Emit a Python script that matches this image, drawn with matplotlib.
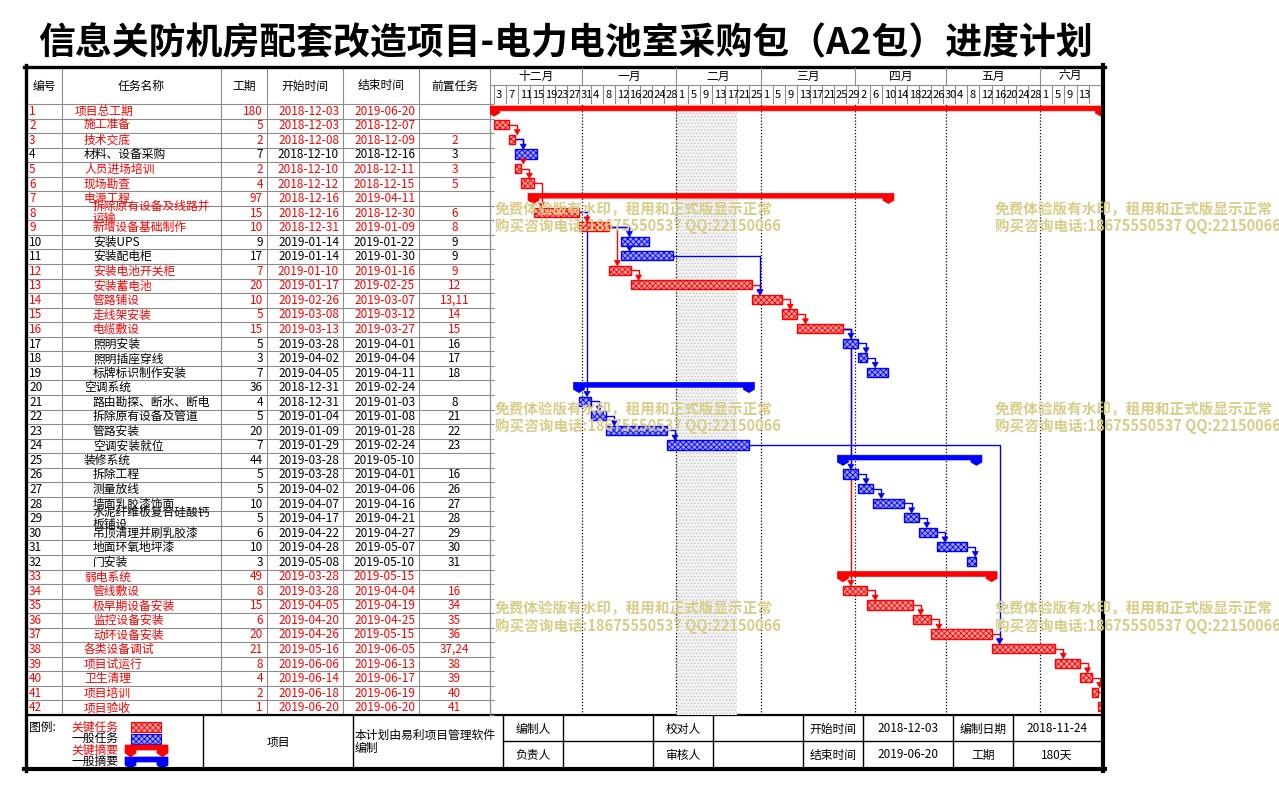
import numpy as np
import matplotlib
matplotlib.use('Agg')
import matplotlib.pyplot as plt
import matplotlib.dates as mdates
from matplotlib.patches import Polygon, Rectangle

plt.rcParams['font.family'] = ['Noto Sans CJK SC', 'DejaVu Sans']
plt.rcParams['hatch.linewidth'] = 0.6

title = '信息关防机房配套改造项目-电力电池室采购包（A2包）进度计划'

names = ['项目总工期', '施工准备', '技术交底', '材料、设备采购', '人员进场培训', '现场勘查',
         '电源工程', '拆除原有设备及线路并运输', '新增设备基础制作', '安装UPS', '安装配电柜',
         '安装电池开关柜', '安装蓄电池', '管路铺设', '走线架安装', '电缆敷设', '照明安装',
         '照明插座穿线', '标牌标识制作安装', '空调系统', '路由勘探、断水、断电', '拆除原有设备及管道',
         '管路安装', '空调安装就位', '装修系统', '拆除工程', '测量放线', '墙面乳胶漆饰面',
         '水泥纤维板复合硅酸钙板铺设', '吊顶清理并刷乳胶漆', '地面环氧地坪漆', '门安装', '弱电系统',
         '管线敷设', '极早期设备安装', '监控设备安装', '动环设备安装', '各类设备调试', '项目试运行',
         '卫生清理', '项目培训', '项目验收']
levels = [1, 2, 2, 2, 2, 2, 2, 3, 3, 3, 3, 3, 3, 3, 3, 3, 3, 3, 3, 2, 3, 3, 3, 3, 2,
          3, 3, 3, 3, 3, 3, 3, 2, 3, 3, 3, 3, 2, 2, 2, 2, 2]
durations = [180, 5, 2, 7, 2, 4, 97, 15, 10, 9, 17, 7, 20, 10, 5, 15, 5, 3, 7, 36, 4,
             5, 20, 7, 44, 5, 5, 10, 5, 6, 10, 3, 49, 8, 15, 6, 20, 21, 8, 4, 2, 1]
starts = ['2018-12-03', '2018-12-03', '2018-12-08', '2018-12-10', '2018-12-10', '2018-12-12',
          '2018-12-16', '2018-12-16', '2018-12-31', '2019-01-14', '2019-01-14', '2019-01-10',
          '2019-01-17', '2019-02-26', '2019-03-08', '2019-03-13', '2019-03-28', '2019-04-02',
          '2019-04-05', '2018-12-31', '2018-12-31', '2019-01-04', '2019-01-09', '2019-01-29',
          '2019-03-28', '2019-03-28', '2019-04-02', '2019-04-07', '2019-04-17', '2019-04-22',
          '2019-04-28', '2019-05-08', '2019-03-28', '2019-03-28', '2019-04-05', '2019-04-20',
          '2019-04-26', '2019-05-16', '2019-06-06', '2019-06-14', '2019-06-18', '2019-06-20']
ends = ['2019-06-20', '2018-12-07', '2018-12-09', '2018-12-16', '2018-12-11', '2018-12-15',
        '2019-04-11', '2018-12-30', '2019-01-09', '2019-01-22', '2019-01-30', '2019-01-16',
        '2019-02-25', '2019-03-07', '2019-03-12', '2019-03-27', '2019-04-01', '2019-04-04',
        '2019-04-11', '2019-02-24', '2019-01-03', '2019-01-08', '2019-01-28', '2019-02-24',
        '2019-05-10', '2019-04-01', '2019-04-06', '2019-04-16', '2019-04-21', '2019-04-27',
        '2019-05-07', '2019-05-10', '2019-05-15', '2019-04-04', '2019-04-19', '2019-04-25',
        '2019-05-15', '2019-06-05', '2019-06-13', '2019-06-17', '2019-06-19', '2019-06-20']
preds = ['', '', '2', '3', '3', '5', '', '6', '8', '9', '9', '9', '12', '13,11', '14', '15',
         '16', '17', '18', '', '8', '21', '22', '23', '', '16', '26', '27', '28', '29', '30',
         '31', '', '16', '34', '35', '36', '37,24', '38', '39', '40', '41']
critical = [1, 1, 1, 0, 1, 1, 1, 1, 1, 0, 0, 1, 1, 1, 1, 1, 0, 0, 0, 0, 0, 0, 0, 0, 0,
            0, 0, 0, 0, 0, 0, 0, 1, 1, 1, 1, 1, 1, 1, 1, 1, 1]
summary_rows = [1, 7, 20, 25, 33]

headers = ['编号', '任务名称', '工期', '开始时间', '结束时间', '前置任务']
month_names = ['十二月', '一月', '二月', '三月', '四月', '五月', '六月']
month_starts = ['2018-12-01', '2019-01-01', '2019-02-01', '2019-03-01', '2019-04-01',
                '2019-05-01', '2019-06-01', '2019-07-01']
shade_span = ('2019-02-01', '2019-02-21')
day_ticks = np.arange(np.datetime64('2018-12-03'), np.datetime64('2019-06-18'), 4)

footer_row1 = ['编制人', '', '校对人', '', '开始时间', '2018-12-03', '编制日期', '2018-11-24']
footer_row2 = ['负责人', '', '审核人', '', '结束时间', '2019-06-20', '工期', '180天']
legend_labels = ['关键任务', '一般任务', '关键摘要', '一般摘要']

watermark1 = '免费体验版有水印，租用和正式版显示正常'
watermark2 = '购买咨询电话:18675550537 QQ:22150066'

RED = '#ff0000'
BLUE = '#0000ff'
RED_FILL = '#ffa0a0'
BLUE_FILL = '#a0a0ff'
GRID = '#8c8c8c'
WM = '#d8cd88'

W, H = 1279, 792
L, R = 27, 1101
TOP, HDR, BOT, FOOT = 68, 104, 715, 767
GL = 490
col_x = [27, 62, 221, 267, 343, 419, GL]
n = len(names)
row_h = (BOT - HDR) / n

fig = plt.figure(figsize=(W / 100, H / 100), dpi=100)
ax = fig.add_axes([0, 0, 1, 1])
ax.set_xlim(0, W)
ax.set_ylim(H, 0)
ax.axis('off')

ax.text(566, 44, title, fontsize=26.6, fontweight='bold', ha='center', va='center')

# table grid
for k in range(n + 1):
    y = HDR + k * row_h
    ax.plot([L, GL], [y, y], color=GRID, lw=0.8)
for x in col_x[1:]:
    ax.plot([x, x], [TOP, BOT], color=GRID, lw=0.8)
for j, h in enumerate(headers):
    ax.text((col_x[j] + col_x[j + 1]) / 2, (TOP + HDR) / 2, h, fontsize=8.5,
            ha='center', va='center')

indent = {1: 75, 2: 84, 3: 93}
for i in range(n):
    y = HDR + (i + 0.5) * row_h
    c = RED if critical[i] else 'black'
    ax.text(29, y, str(i + 1), color=c, fontsize=8.5, va='center', ha='left')
    nm = names[i]
    if len(nm) > 10:
        nm = nm[:10] + '\n' + nm[10:]
    ax.text(indent[levels[i]], y, nm, color=c, fontsize=8.5, va='center', ha='left',
            linespacing=0.95)
    ax.text(col_x[3] - 4, y, str(durations[i]), color=c, fontsize=8.5, va='center', ha='right')
    ax.text(col_x[4] - 4, y, starts[i], color=c, fontsize=8.5, va='center', ha='right')
    ax.text(col_x[5] - 4, y, ends[i], color=c, fontsize=8.5, va='center', ha='right')
    ax.text((col_x[5] + col_x[6]) / 2, y, preds[i], color=c, fontsize=8.5,
            va='center', ha='center')

# footer
ax.plot([L, R], [BOT, BOT], color='black', lw=1.6)
mid = (BOT + FOOT) / 2
for x in [203, 353, 503]:
    ax.plot([x, x], [BOT, FOOT], color='black', lw=1)
fx = [503, 563, 653, 713, 803, 863, 953, 1013, R]
for x in fx[1:-1]:
    ax.plot([x, x], [BOT, FOOT], color='black', lw=1)
ax.plot([503, R], [mid, mid], color='black', lw=1)
for j in range(8):
    cx = (fx[j] + fx[j + 1]) / 2
    ax.text(cx, (BOT + mid) / 2 + 1, footer_row1[j], fontsize=8.5, ha='center', va='center')
    ax.text(cx, (mid + FOOT) / 2 + 1, footer_row2[j], fontsize=8.5, ha='center', va='center')
ax.text(278, mid + 1, '项目', fontsize=8.5, ha='center', va='center')
ax.text(355, mid + 1, '本计划由易利项目管理软件\n编制', fontsize=8.5, ha='left', va='center',
        linespacing=1.0)
ax.text(29, 727, '图例:', fontsize=8.5, ha='left', va='center')
for k, lab in enumerate(legend_labels):
    ax.text(71, 727 + k * 11.6, lab, fontsize=8.5, ha='left', va='center',
            color=RED if k % 2 == 0 else 'black')
ax.add_patch(Rectangle((131, 722), 30, 9.5, facecolor=RED_FILL, edgecolor=RED,
                       hatch='xxxxxx', lw=0.8))
ax.add_patch(Rectangle((131, 734), 30, 9.5, facecolor=BLUE_FILL, edgecolor=BLUE,
                       hatch='xxxxxx', lw=0.8))


def summary_shape(x0, x1, top, bar_b, side_b, tip, hw):
    return [(x0 - hw, top), (x1 + hw, top), (x1 + hw, side_b), (x1, tip), (x1 - hw, side_b),
            (x1 - hw, bar_b), (x0 + hw, bar_b), (x0 + hw, side_b), (x0, tip), (x0 - hw, side_b)]


for k, c in enumerate([RED, BLUE]):
    t = 745 + k * 12
    ax.add_patch(Polygon(summary_shape(130.5, 162.5, t, t + 5, t + 8, t + 12, 5.5),
                         closed=True, facecolor=c, edgecolor=c, lw=0.5))

# gantt header
def d2n(s):
    return mdates.date2num(np.datetime64(s))


xlo = d2n('2018-12-01') + 0.66
xhi = d2n('2019-06-21') + 0.06
ppd = (R - GL) / (xhi - xlo)

hx = fig.add_axes([GL / W, 1 - HDR / H, (R - GL) / W, (HDR - TOP) / H])
hx.set_xlim(xlo, xhi)
hx.set_ylim(HDR, TOP)
hx.axis('off')
hx.plot([xlo, xhi], [85, 85], color=GRID, lw=0.8)
hx.plot([xlo, xhi], [HDR - 0.5, HDR - 0.5], color=GRID, lw=0.8)
for k, m in enumerate(month_names):
    a, b = d2n(month_starts[k]), d2n(month_starts[k + 1])
    if k > 0:
        hx.plot([a, a], [TOP, 85], color=GRID, lw=0.8)
    cx = (max(a, xlo) + min(b, xhi)) / 2
    hx.text(cx, 76.5, m, fontsize=8.5, ha='center', va='center')
for k, d in enumerate(day_ticks):
    x = mdates.date2num(d)
    hx.plot([x, x], [85, HDR], color=GRID, lw=0.8)
    if k < len(day_ticks) - 1:
        hx.text(x + 2 / ppd, 94.5, str(d.astype(object).day), fontsize=8,
                ha='left', va='center')

# gantt body
gx = fig.add_axes([GL / W, 1 - BOT / H, (R - GL) / W, (BOT - HDR) / H])
gx.set_xlim(xlo, xhi)
gx.set_ylim(n, 0)
for s in ['top', 'right', 'bottom']:
    gx.spines[s].set_visible(False)
gx.spines['left'].set_color(GRID)
gx.set_yticks(np.arange(n + 1))
gx.set_xticks([])
gx.tick_params(axis='y', direction='in', length=3, color=GRID, labelleft=False)
gx.set_facecolor('none')

gx.axvspan(d2n(shade_span[0]), d2n(shade_span[1]), facecolor='#f3f3f3',
           edgecolor='#c4c4c4', hatch='.....', lw=0, zorder=0.5)
for m in month_starts[1:-1]:
    gx.axvline(d2n(m), color='black', lw=0.9, ls=(0, (1, 1.5)), zorder=1)

s_num = np.array([d2n(s) for s in starts])
e_num = np.array([d2n(e) for e in ends]) + 1
gap = 8 / ppd
bar_top, bar_h = 0.12, 0.63
arrow_w, arrow_h = 3 / ppd, 0.36

heads = []
for crit_pass in [1, 0]:
    for t in range(n):
        if not preds[t]:
            continue
        for p in preds[t].split(','):
            p = int(p) - 1
            both = critical[p] and critical[t]
            if both != crit_pass:
                continue
            c = RED if both else BLUE
            xa = max(e_num[p], s_num[t]) + gap
            ys = p + bar_top + bar_h / 2
            yt = t + bar_top
            gx.plot([e_num[p], xa, xa], [ys, ys, yt - arrow_h], color=c, lw=1,
                    zorder=2 + (1 - crit_pass) * 0.1)
            heads.append(([(xa - arrow_w, yt - arrow_h), (xa + arrow_w, yt - arrow_h),
                           (xa, yt)], c))

task = [i for i in range(n) if (i + 1) not in summary_rows]
for crit in [1, 0]:
    idx = [i for i in task if critical[i] == crit]
    c = RED if crit else BLUE
    gx.barh([i + bar_top for i in idx], e_num[idx] - s_num[idx], left=s_num[idx],
            height=bar_h, align='edge', facecolor=RED_FILL if crit else BLUE_FILL,
            edgecolor=c, hatch='xxxxxx', lw=1, zorder=3)

hw = 5.5 / ppd
for r in summary_rows:
    i = r - 1
    c = RED if critical[i] else BLUE
    gx.add_patch(Polygon(summary_shape(s_num[i], e_num[i], i + 0.14, i + 0.47, i + 0.62,
                                       i + 0.84, hw),
                         closed=True, facecolor=c, edgecolor=c, lw=0.5, zorder=3))

for pts, c in heads:
    gx.add_patch(Polygon(pts, closed=True, facecolor=c, edgecolor=c, lw=0.5, zorder=4))

# outer frame
ax.plot([25.5, 25.5], [65, 771], color='black', lw=2.4, zorder=10)
ax.plot([24, 1105], [66.5, 66.5], color='black', lw=2.4, zorder=10)
ax.plot([24, 1105], [769, 769], color='black', lw=3, zorder=10)
ax.plot([1103, 1103], [65, 771], color='black', lw=3, zorder=10)

# watermark
for wx in [495, 995]:
    for wy in [209, 409, 608]:
        fig.text(wx / W, 1 - wy / H, watermark1, color=WM, fontsize=10.5, fontweight='bold',
                 ha='left', va='center', zorder=20)
        fig.text(wx / W, 1 - (wy + 17.5) / H, watermark2, color=WM, fontsize=10.5,
                 fontweight='bold', ha='left', va='center', zorder=20)

fig.savefig('out.png', dpi=100)
